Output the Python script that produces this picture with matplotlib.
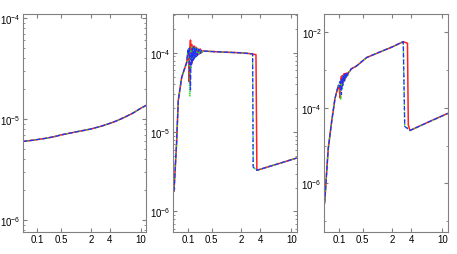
import numpy as np
import matplotlib
matplotlib.use("Agg")
import matplotlib.pyplot as plt
from matplotlib.ticker import FixedLocator, LogLocator, LogFormatterSciNotation, NullFormatter

plt.rcParams["font.family"] = ["Liberation Sans", "DejaVu Sans"]
plt.rcParams["mathtext.fontset"] = "custom"
plt.rcParams["mathtext.rm"] = "Liberation Sans"
plt.rcParams["mathtext.it"] = "Liberation Sans"
plt.rcParams["mathtext.default"] = "regular"

# ---- panel 1: smooth curve, all three series on top of each other
x1 = [0.023, 0.05, 0.1, 0.2, 0.35, 0.5, 0.75, 1, 1.5, 2, 3, 4, 5, 6, 8, 10, 11.4]
y1 = [6.0e-6, 6.1e-6, 6.25e-6, 6.45e-6, 6.7e-6, 6.95e-6, 7.2e-6, 7.4e-6, 7.7e-6,
      7.95e-6, 8.5e-6, 9.05e-6, 9.6e-6, 1.02e-5, 1.14e-5, 1.28e-5, 1.36e-5]

# ---- panel 2
x2 = [0.0256, 0.0345, 0.041, 0.0576, 0.0908,
      0.100, 0.106, 0.112, 0.118, 0.124, 0.130, 0.136, 0.142, 0.150, 0.158,
      0.166, 0.175, 0.185, 0.195, 0.21, 0.23, 0.25, 0.27, 0.30,
      0.35, 0.5, 1.0, 2.0, 3.06, 3.12, 3.44, 3.55, 7.0, 11.4]
rise2 = [1.8e-6, 7.6e-6, 2.5e-5, 4.9e-5, 7.6e-5]
tail2_red = [1.05e-4, 1.04e-4, 1.02e-4, 1.0e-4, 9.7e-5, 9.6e-5, 9.5e-5, 3.3e-6, 4.0e-6, 4.7e-6]
tail2_bg = [1.05e-4, 1.04e-4, 1.02e-4, 1.0e-4, 9.7e-5, 3.6e-6, 3.4e-6, 3.3e-6, 4.0e-6, 4.7e-6]
osc2_red = [10.0, 8.5, 4.3, 11.5, 14.5, 9.0, 12.8, 7.5, 12.0, 8.5, 12.2, 8.8, 11.8, 9.2, 11.4, 9.6, 11.2, 10.0, 10.6]
osc2_green = [10.3, 11.0, 7.0, 2.8, 10.5, 6.5, 11.8, 8.0, 11.0, 8.2, 11.8, 8.6, 11.5, 9.0, 11.2, 9.5, 11.0, 9.9, 10.5]
osc2_blue = [10.8, 9.5, 11.5, 6.0, 3.4, 10.0, 7.0, 11.3, 8.0, 11.9, 8.4, 11.6, 8.9, 11.3, 9.3, 11.1, 9.8, 10.8, 10.5]

# ---- panel 3
x3 = [0.024, 0.0256, 0.0311, 0.0368, 0.0522, 0.0714, 0.0955,
      0.100, 0.106, 0.112, 0.118, 0.124, 0.130, 0.136, 0.142, 0.150, 0.158,
      0.166, 0.175, 0.185, 0.195, 0.21, 0.23, 0.25,
      0.35, 0.624, 1.38, 2.0, 3.02, 3.18, 3.5, 3.6, 3.81, 7.0, 11.4]
rise3 = [3.0e-7, 4.1e-7, 2.1e-6, 8.3e-6, 4.3e-5, 1.74e-4, 3.8e-4]
osc3_red = [3.8, 2.6, 1.8, 5.5, 6.8, 3.6, 7.0, 4.5, 7.8, 5.2, 8.0, 6.2, 8.2, 7.0, 8.6, 9.2, 10.5]
osc3_green = [3.9, 4.6, 2.5, 1.6, 5.8, 3.2, 6.6, 4.0, 7.0, 5.0, 7.6, 6.0, 8.0, 7.1, 8.5, 9.2, 10.5]
osc3_blue = [4.0, 3.5, 5.0, 2.6, 2.2, 6.2, 3.8, 7.2, 4.6, 7.5, 5.6, 7.9, 6.8, 7.9, 8.4, 9.2, 10.5]
tail3_red = [1.25e-3, 2.1e-3, 3.2e-3, 4.0e-3, 5.5e-3, 5.3e-3, 5.0e-3, 3.5e-5, 2.5e-5, 4.3e-5, 7.0e-5]
tail3_green = [1.25e-3, 2.1e-3, 3.2e-3, 4.0e-3, 5.5e-3, 3.5e-5, 2.9e-5, 2.7e-5, 2.5e-5, 4.3e-5, 7.0e-5]
tail3_blue = [1.25e-3, 2.1e-3, 3.2e-3, 4.0e-3, 5.5e-3, 3.2e-5, 2.8e-5, 2.7e-5, 2.5e-5, 4.3e-5, 7.0e-5]

xticks = [0.1, 0.5, 2, 4, 10]
xtick_labels = ["0.1", "0.5", "2", "4", "10"]

series2 = {
    "r": rise2 + [v * 1e-5 for v in osc2_red] + tail2_red,
    "g": rise2 + [v * 1e-5 for v in osc2_green] + tail2_bg,
    "b": rise2 + [v * 1e-5 for v in osc2_blue] + tail2_bg,
}
series3 = {
    "r": rise3 + [v * 1e-4 for v in osc3_red] + tail3_red,
    "g": rise3 + [v * 1e-4 for v in osc3_green] + tail3_green,
    "b": rise3 + [v * 1e-4 for v in osc3_blue] + tail3_blue,
}
series1 = {"r": y1, "g": y1, "b": y1}

styles = {"r": dict(color="#ff2020", ls="-", lw=1.1),
          "g": dict(color="#20dd20", ls=":", lw=1.1),
          "b": dict(color="#2030ff", ls="--", lw=0.9)}

fig = plt.figure(figsize=(4.57, 2.55), dpi=100)
lefts = [22.5 / 457, 173 / 457, 324 / 457]
w = 123.5 / 457
b = 22 / 255
h = 218 / 255

panels = [
    (x1, series1, (10 ** -6.12, 10 ** -3.96), None),
    (x2, series2, (10 ** -6.26, 10 ** -3.51), None),
    (x3, series3, (10 ** -7.28, 10 ** -1.53), [1e-6, 1e-4, 1e-2]),
]

fwd = lambda x: np.power(np.clip(x, 0, None), 0.25)
inv = lambda u: np.power(np.clip(u, 0, None), 4)

for left, (xs, ser, ylim, majors) in zip(lefts, panels):
    ax = fig.add_axes([left, b, w, h])
    for k in ["r", "g", "b"]:
        ax.plot(xs, ser[k], **styles[k])
    ax.set_yscale("log")
    ax.set_xscale("function", functions=(fwd, inv))
    ax.set_xlim(0.0227, 11.4)
    ax.set_ylim(*ylim)
    ax.set_xticks(xticks)
    ax.set_xticklabels(xtick_labels)
    ax.xaxis.set_minor_locator(FixedLocator([]))
    if majors is None:
        ax.yaxis.set_major_locator(LogLocator(base=10))
        ax.yaxis.set_minor_locator(LogLocator(base=10, subs=np.arange(2, 10)))
    else:
        ax.yaxis.set_major_locator(FixedLocator(majors))
        ax.yaxis.set_minor_locator(FixedLocator([1e-7, 1e-5, 1e-3]))
    ax.yaxis.set_major_formatter(LogFormatterSciNotation())
    ax.yaxis.set_minor_formatter(NullFormatter())
    ax.tick_params(which="both", direction="in", top=True, right=True,
                   color="#808080", labelsize=7, pad=1.5)
    ax.tick_params(which="major", length=3)
    ax.tick_params(which="minor", length=1.5)
    for s in ax.spines.values():
        s.set_color("#808080")
        s.set_linewidth(0.8)

fig.savefig("out.png", dpi=100)
